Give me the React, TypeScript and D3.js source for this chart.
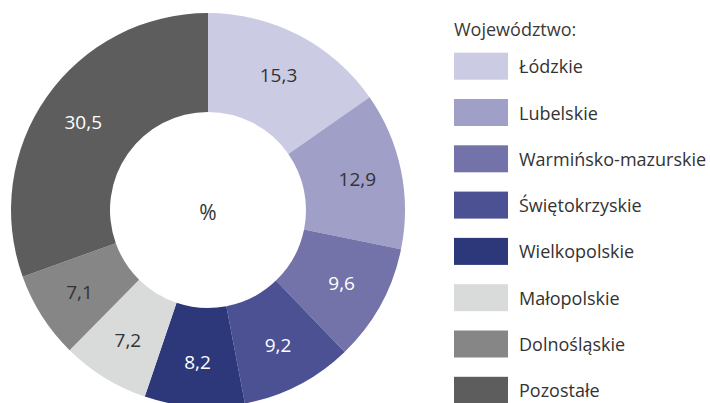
import React from "react";
import * as d3 from "d3";

const categories = [
  "Łódzkie",
  "Lubelskie",
  "Warmińsko-mazurskie",
  "Świętokrzyskie",
  "Wielkopolskie",
  "Małopolskie",
  "Dolnośląskie",
  "Pozostałe",
];
const values = [15.3, 12.9, 9.6, 9.2, 8.2, 7.2, 7.1, 30.5];
const colors = ["#cbcce4", "#9f9fc7", "#7473a9", "#4b5192", "#2c387a", "#d9dbda", "#868686", "#5d5d5d"];
const labelColors = ["#333333", "#333333", "#ffffff", "#ffffff", "#ffffff", "#333333", "#333333", "#ffffff"];
const legendTitle = "Województwo:";
const centerLabel = "%";

const W = 710;
const H = 403;
const cx = 208;
const cy = 210;
const outerR = 197;
const innerR = 98;

const fmt = (v: number) => v.toFixed(1).replace(".", ",");

export default function App() {
  const data = categories.map((c, i) => ({ name: c, value: values[i], i }));
  const pie = d3.pie<any>().value((d) => d.value).sort(null);
  const arcs = pie(data);
  const arc = d3.arc<any>().innerRadius(innerR).outerRadius(outerR);
  const labelArc = d3.arc<any>().innerRadius(innerR + 5).outerRadius(outerR + 5);

  const legend = d3
    .scaleBand<string>()
    .domain(categories)
    .range([52.7, 52.7 + 46.3 * categories.length]);

  const font = "'Open Sans', 'Noto Sans', sans-serif";

  return (
    <svg
      width={W}
      height={H}
      style={{ position: "absolute", left: 0, top: 0, background: "#fff" }}
      fontFamily={font}
    >
      <g transform={`translate(${cx},${cy})`}>
        {arcs.map((a, i) => (
          <path key={i} d={arc(a) as string} fill={colors[i]} />
        ))}
        {arcs.map((a, i) => {
          const [x, y] = labelArc.centroid(a);
          return (
            <text
              key={"l" + i}
              x={x}
              y={y}
              textAnchor="middle"
              dominantBaseline="central"
              fontSize={19}
              fill={labelColors[i]}
            >
              {fmt(values[i])}
            </text>
          );
        })}
        <text x={0} y={2} textAnchor="middle" dominantBaseline="central" fontSize={21} fill="#333">
          {centerLabel}
        </text>
      </g>
      <text x={454} y={35.7} fontSize={18} fill="#3a3a3a">
        {legendTitle}
      </text>
      {categories.map((c, i) => {
        const y = legend(c) as number;
        return (
          <g key={"lg" + i}>
            <rect x={454} y={y} width={54} height={27} fill={colors[i]} />
            <text x={519} y={y + 13.5} dominantBaseline="central" fontSize={18} fill="#333">
              {c}
            </text>
          </g>
        );
      })}
    </svg>
  );
}
